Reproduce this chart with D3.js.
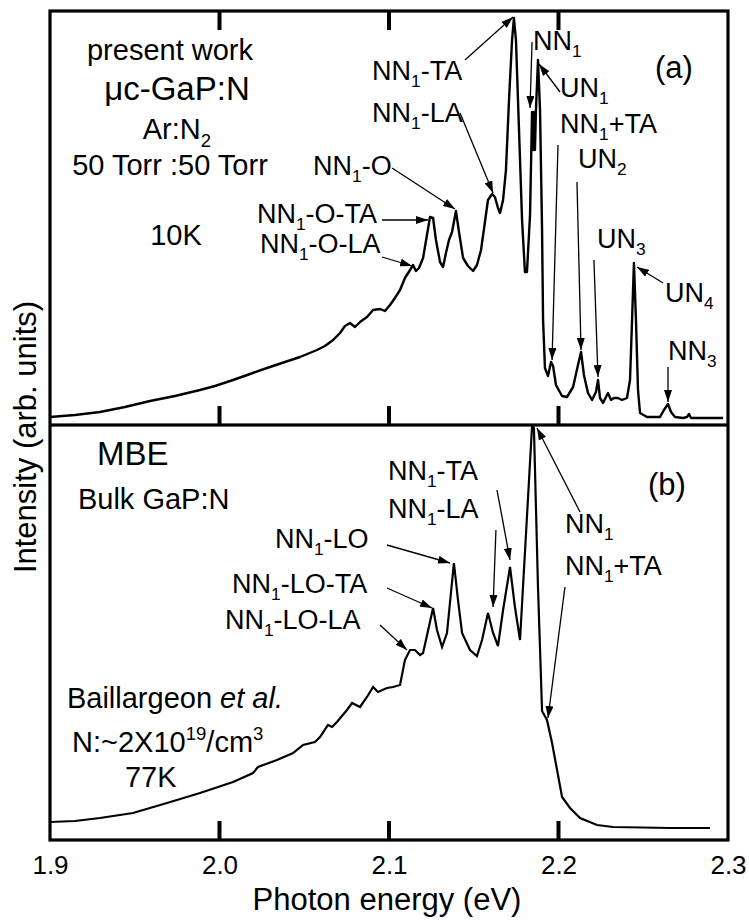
<!DOCTYPE html>
<html><head><meta charset="utf-8">
<script src="https://cdn.jsdelivr.net/npm/d3@7"></script>
<style>
body{margin:0;background:#fff;}
text{font-family:"Liberation Sans",Arial,Helvetica,sans-serif;fill:#000;}
</style></head><body>
<svg id="chart" width="749" height="921"></svg>
<script>
// ---------- DATA ----------
// Panel (a): present work, uc-GaP:N, 10K  (photon energy in eV, intensity in arb. units)
const energyA = [
 1.9000,1.9147,1.9295,1.9442,1.9590,1.9737,1.9885,1.9973,2.0080,2.0180,
 2.0280,2.0386,2.0475,2.0575,2.0622,2.0670,2.0711,2.0740,2.0770,2.0799,
 2.0829,2.0870,2.0906,2.0947,2.0976,2.1006,2.1035,2.1065,2.1094,2.1124,
 2.1142,2.1159,2.1177,2.1201,2.1224,2.1242,2.1260,2.1277,2.1301,2.1319,
 2.1336,2.1354,2.1372,2.1395,2.1413,2.1437,2.1466,2.1496,2.1519,2.1543,
 2.1566,2.1584,2.1608,2.1625,2.1643,2.1655,2.1673,2.1690,2.1708,2.1726,
 2.1737,2.1749,2.1767,2.1785,2.1802,2.1814,2.1832,2.1844,2.1850,2.1855,
 2.1861,2.1867,2.1879,2.1891,2.1903,2.1909,2.1920,2.1938,2.1956,2.1968,
 2.1985,2.2021,2.2050,2.2086,2.2115,2.2133,2.2150,2.2174,2.2198,2.2221,
 2.2233,2.2245,2.2263,2.2280,2.2292,2.2310,2.2327,2.2351,2.2375,2.2404,
 2.2422,2.2434,2.2445,2.2457,2.2469,2.2481,2.2522,2.2599,2.2622,2.2646,
 2.2664,2.2687,2.2735,2.2758,2.2770,2.2782,2.2971];
const intensityA = [
 8,10,13,18,24,29,35,39,45,51,
 57,63,68,75,79,85,92,99,102,98,
 103,108,115,116,114,120,127,135,147,155,
 160,154,157,167,190,208,207,185,163,158,
 172,185,193,214,193,167,159,154,160,175,
 203,225,231,228,217,212,225,255,325,385,
 407,385,295,205,153,153,210,313,275,313,
 275,315,365,315,195,105,57,49,63,59,
 40,29,28,38,60,73,50,32,25,33,
 45,27,22,28,32,25,27,27,25,27,
 45,105,162,105,35,12,8,8,15,21,
 13,8,7,8,11,7,7];

// Panel (b): Baillargeon et al., bulk GaP:N, 77K
const energyB = [
 1.9000,1.9147,1.9295,1.9490,1.9690,1.9885,2.0080,2.0198,2.0227,2.0339,
 2.0434,2.0493,2.0563,2.0593,2.0640,2.0664,2.0693,2.0752,2.0782,2.0829,
 2.0870,2.0906,2.0935,2.0988,2.1024,2.1065,2.1094,2.1124,2.1153,2.1183,
 2.1201,2.1260,2.1283,2.1313,2.1342,2.1383,2.1407,2.1431,2.1478,2.1519,
 2.1549,2.1584,2.1614,2.1643,2.1673,2.1714,2.1743,2.1773,2.1844,2.1855,
 2.1879,2.1903,2.1932,2.1962,2.2021,2.2068,2.2127,2.2227,2.2322,2.2658,
 2.2894];
const intensityB = [
 18,19,22,27,37,47,58,67,73,80,
 87,95,98,103,115,113,118,130,137,133,
 143,153,148,152,153,155,180,190,190,185,
 187,232,210,193,207,277,240,207,190,184,
 200,227,207,194,230,273,233,200,414,412,
 253,129,120,97,43,32,22,15,13,12,
 12];

const xTickLabels = [1.9, 2.0, 2.1, 2.2, 2.3];
const innerTicks = [2.0, 2.1, 2.2];

// Annotations: text ({}=subscript, []=superscript, <>=italic), anchor point in data units
const notesA = [
 {t:"present work", e:1.9708, v:365, mid:true, k:"desc"},
 {t:"μc-GaP:N", e:1.9749, v:325, mid:true, k:"big"},
 {t:"Ar:N{2}", e:1.9749, v:286, mid:true, k:"desc"},
 {t:"50 Torr :50 Torr", e:1.9708, v:250, mid:true, k:"desc"},
 {t:"10K", e:1.9743, v:180, mid:true, k:"desc"},
 {t:"NN{1}-O-TA", e:2.0221, v:202},
 {t:"NN{1}-O-LA", e:2.0239, v:172},
 {t:"NN{1}-O", e:2.0552, v:250},
 {t:"NN{1}-TA", e:2.0900, v:345},
 {t:"NN{1}-LA", e:2.0900, v:303},
 {t:"NN{1}", e:2.1850, v:375},
 {t:"(a)", e:2.2569, v:347, k:"panel"},
 {t:"UN{1}", e:2.2009, v:328},
 {t:"NN{1}+TA", e:2.2009, v:292},
 {t:"UN{2}", e:2.2115, v:257},
 {t:"UN{3}", e:2.2227, v:177},
 {t:"UN{4}", e:2.2628, v:123},
 {t:"NN{3}", e:2.2646, v:65}
];
const arrowsA = [
 {e1:2.1448,v1:365,e2:2.1732,v2:408},
 {e1:2.1419,v1:312,e2:2.1614,v2:232},
 {e1:2.1018,v1:257,e2:2.1389,v2:216},
 {e1:2.0959,v1:205,e2:2.1230,v2:205},
 {e1:2.0959,v1:168,e2:2.1136,v2:159},
 {e1:2.1844,v1:383,e2:2.1832,v2:317},
 {e1:2.2009,v1:333,e2:2.1885,v2:361},
 {e1:2.1997,v1:280,e2:2.1962,v2:65},
 {e1:2.2109,v1:243,e2:2.2133,v2:75},
 {e1:2.2209,v1:165,e2:2.2233,v2:48},
 {e1:2.2617,v1:142,e2:2.2463,v2:158},
 {e1:2.2646,v1:58,e2:2.2646,v2:23}
];
const notesB = [
 {t:"MBE", e:1.9277, v:375, k:"big"},
 {t:"Bulk GaP:N", e:1.9165, v:331, k:"desc"},
 {t:"NN{1}-TA", e:2.0994, v:360},
 {t:"NN{1}-LA", e:2.0994, v:322},
 {t:"NN{1}-LO", e:2.0327, v:292},
 {t:"NN{1}-LO-TA", e:2.0074, v:247},
 {t:"NN{1}-LO-LA", e:2.0032, v:211},
 {t:"Baillargeon <et al.>", e:1.9100, v:132, k:"desc"},
 {t:"N:~2X10[19]/cm[3]", e:1.9130, v:88, k:"desc"},
 {t:"77K", e:1.9442, v:53, k:"desc"},
 {t:"(b)", e:2.2528, v:345, k:"panel"},
 {t:"NN{1}", e:2.2038, v:307},
 {t:"NN{1}+TA", e:2.2038, v:265}
];
const arrowsB = [
 {e1:2.2127,v1:328,e2:2.1873,v2:412},
 {e1:2.2038,v1:253,e2:2.1938,v2:122},
 {e1:2.1637,v1:350,e2:2.1714,v2:280},
 {e1:2.1631,v1:310,e2:2.1614,v2:233},
 {e1:2.0988,v1:295,e2:2.1360,v2:277},
 {e1:2.0988,v1:252,e2:2.1254,v2:232},
 {e1:2.0947,v1:215,e2:2.1106,v2:190}
];

// ---------- LAYOUT ----------
const W = 749, H = 921;
const L = 50, R = 728, T = 11, MID = 425, B = 840;
const TICK = 19, TICKW = 4;
const fontSizes = {label:27, desc:29, big:33, panel:31};

const svg = d3.select('#chart');
svg.append('rect').attr('width', W).attr('height', H).attr('fill', '#fff');

const x = d3.scaleLinear().domain([1.9, 2.3]).range([L, R]);
const yA = d3.scaleLinear().domain([0, 414]).range([MID, T]);
const yB = d3.scaleLinear().domain([0, 415]).range([B, MID]);

const defs = svg.append('defs');
defs.append('clipPath').attr('id', 'clipA').append('rect')
  .attr('x', L).attr('y', T).attr('width', R - L).attr('height', MID - T);
defs.append('clipPath').attr('id', 'clipB').append('rect')
  .attr('x', L).attr('y', MID).attr('width', R - L).attr('height', B - MID);
defs.append('marker').attr('id', 'arrowhead')
  .attr('viewBox', '0 0 12 8').attr('refX', 12).attr('refY', 4)
  .attr('markerWidth', 12).attr('markerHeight', 8)
  .attr('markerUnits', 'userSpaceOnUse').attr('orient', 'auto')
  .append('path').attr('d', 'M0,0 L12,4 L0,8 Z').attr('fill', '#000');

// curves
const lineA = d3.line().x(d => x(d[0])).y(d => yA(d[1]));
const lineB = d3.line().x(d => x(d[0])).y(d => yB(d[1]));
svg.append('path').datum(d3.zip(energyA, intensityA))
  .attr('d', lineA).attr('clip-path', 'url(#clipA)')
  .attr('fill', 'none').attr('stroke', '#000').attr('stroke-width', 2.4)
  .attr('stroke-linejoin', 'round');
svg.append('path').datum(d3.zip(energyB, intensityB))
  .attr('d', lineB).attr('clip-path', 'url(#clipB)')
  .attr('fill', 'none').attr('stroke', '#000').attr('stroke-width', 2.2)
  .attr('stroke-linejoin', 'miter');

// frame
svg.append('rect').attr('x', L).attr('y', T).attr('width', R - L).attr('height', B - T)
  .attr('fill', 'none').attr('stroke', '#000').attr('stroke-width', 3.2);
svg.append('rect').attr('x', L).attr('y', MID - 1.6).attr('width', R - L).attr('height', 3.2)
  .attr('fill', '#000');

// inward tick marks, positioned with the x scale
const tickRows = [
  {y0: T},              // top of panel (a), pointing down
  {y0: MID - TICK},     // bottom of panel (a), pointing up
  {y0: B - TICK}        // bottom of panel (b), pointing up
];
tickRows.forEach(row => {
  svg.append('g').selectAll('rect').data(innerTicks).join('rect')
    .attr('x', d => x(d) - TICKW / 2).attr('y', row.y0)
    .attr('width', TICKW).attr('height', TICK)
    .attr('fill', '#000');
});

// tick labels via d3 axis
const labAxis = svg.append('g').attr('transform', `translate(0,${B})`)
  .call(d3.axisBottom(x).tickValues(xTickLabels).tickSize(0).tickPadding(16).tickFormat(d3.format('.1f')));
labAxis.select('.domain').remove();
labAxis.selectAll('text').attr('font-size', 26)
  .attr('font-family', '"Liberation Sans",Arial,Helvetica,sans-serif').attr('fill', '#000');

// axis titles
svg.append('text').attr('x', 387).attr('y', 910).attr('text-anchor', 'middle')
  .attr('font-size', 31).text('Photon energy (eV)');
svg.append('text').attr('transform', 'translate(36,437) rotate(-90)')
  .attr('text-anchor', 'middle').attr('font-size', 31).text('Intensity (arb. units)');

// rich text helper
function richText(g, str, fs, px, py, anchor) {
  const t = g.append('text').attr('x', px).attr('y', py).attr('font-size', fs)
    .attr('text-anchor', anchor);
  const re = /\{([^}]*)\}|\[([^\]]*)\]|<([^>]*)>|([^{\[<]+)/g;
  let m, cur = 0;
  while ((m = re.exec(str))) {
    let type = 'n', s = m[4];
    if (m[1] !== undefined) { type = 'sub'; s = m[1]; }
    else if (m[2] !== undefined) { type = 'sup'; s = m[2]; }
    else if (m[3] !== undefined) { type = 'it'; s = m[3]; }
    const target = type === 'sub' ? fs * 0.27 : type === 'sup' ? -fs * 0.42 : 0;
    const ts = t.append('tspan').text(s);
    if (target !== cur) ts.attr('dy', target - cur);
    cur = target;
    if (type === 'sub' || type === 'sup') ts.attr('font-size', fs * 0.64);
    if (type === 'it') ts.attr('font-style', 'italic');
  }
}

function drawNotes(notes, arrows, yS) {
  const g = svg.append('g');
  notes.forEach(n => {
    const fs = fontSizes[n.k || 'label'];
    richText(g, n.t, fs, x(n.e), yS(n.v), n.mid ? 'middle' : 'start');
  });
  arrows.forEach(a => {
    g.append('line')
      .attr('x1', x(a.e1)).attr('y1', yS(a.v1))
      .attr('x2', x(a.e2)).attr('y2', yS(a.v2))
      .attr('stroke', '#000').attr('stroke-width', 1.3)
      .attr('marker-end', 'url(#arrowhead)');
  });
}
drawNotes(notesA, arrowsA, yA);
drawNotes(notesB, arrowsB, yB);
</script>
</body></html>
